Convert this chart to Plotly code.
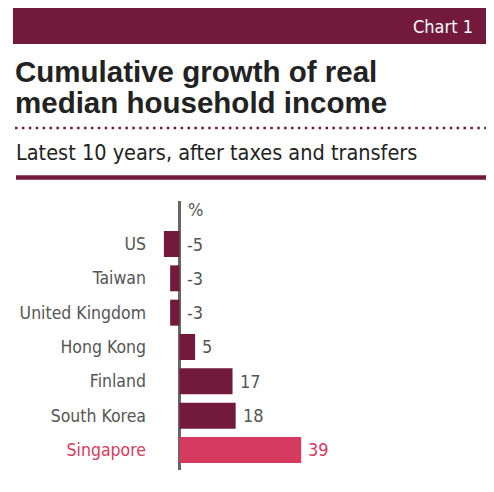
import plotly.graph_objects as go

countries = ["US", "Taiwan", "United Kingdom", "Hong Kong", "Finland", "South Korea", "Singapore"]
values = [-5, -3, -3, 5, 17, 18, 39]
highlight = "Singapore"

MAROON = "#731A3C"
PINK = "#D63A5E"
GREY = "#555555"
COND = "DejaVu Sans Condensed, Liberation Sans Narrow, sans-serif"
BOLD = "Liberation Sans, Arial, sans-serif"

OFF = 8  # page body margin
W, H = 494 - OFF, 492 - OFF
# plot area in page pixels
PL, PR, PT, PB = 150, 490, 201, 470
L, R, T, B = PL - OFF, W - (PR - OFF), PT - OFF, H - (PB - OFF)
PW, PH = PR - PL, PB - PT

def px(x):
    return (x - PL) / PW

def py(y):
    return (PB - y) / PH

colors = [PINK if c == highlight else MAROON for c in countries]
tcolors = [PINK if c == highlight else GREY for c in countries]
ticktext = [f"<span style='color:{PINK}'>{c}</span>" if c == highlight else c for c in countries]

fig = go.Figure()
fig.add_trace(go.Bar(
    y=countries, x=values, orientation="h",
    marker=dict(color=colors, line=dict(width=0)),
    width=0.757, hoverinfo="skip",
))

# x scale: zero at page pixel ~179.5, ~3.12 px per unit
x0px, scale = 179.5, 3.12
xmin = -(x0px - PL) / scale
xmax = (PR - x0px) / scale
# y: first bar centre at 244, spacing 34.33
c0, sp = 244, 34.33
ytop = (PT - c0) / sp
ybot = (PB - c0) / sp

fig.update_xaxes(range=[xmin, xmax], showgrid=False, showticklabels=False,
                 zeroline=True, zerolinecolor="#666666", zerolinewidth=2.5,
                 showline=False, ticks="")
fig.update_yaxes(range=[ybot, ytop], type="category", categoryorder="array",
                 categoryarray=countries, tickvals=countries, ticktext=ticktext,
                 showgrid=False, zeroline=False, showline=False, ticks="",
                 ticklabelstandoff=3, automargin=False,
                 tickfont=dict(family=COND, size=17.5, color=GREY))

shapes = [
    dict(type="rect", xref="paper", yref="paper", x0=px(13), x1=px(490), y0=py(44), y1=py(7),
         fillcolor=MAROON, line=dict(width=0), layer="below"),
    dict(type="line", xref="paper", yref="paper", x0=px(15), x1=px(490), y0=py(128), y1=py(128),
         line=dict(color=MAROON, width=2.5, dash="2.5px,4.4px")),
    dict(type="line", xref="paper", yref="paper", x0=px(16), x1=px(490), y0=py(177.5), y1=py(177.5),
         line=dict(color=MAROON, width=4.5)),
]

annotations = [
    dict(text="Chart 1", xref="paper", yref="paper", x=px(475), y=py(27), xanchor="right",
         yanchor="middle", showarrow=False, font=dict(family=COND, size=18, color="white")),
    dict(text="<b>Cumulative growth of real</b>", xref="paper", yref="paper",
         x=px(13), y=py(72), xanchor="left", yanchor="middle", align="left", showarrow=False,
         font=dict(family=BOLD, size=29.5, color="#222222")),
    dict(text="<b>median household income</b>", xref="paper", yref="paper",
         x=px(13), y=py(103), xanchor="left", yanchor="middle", align="left", showarrow=False,
         font=dict(family=BOLD, size=29.5, color="#222222")),
    dict(text="Latest 10 years, after taxes and transfers", xref="paper", yref="paper",
         x=px(14), y=py(152), xanchor="left", yanchor="middle", showarrow=False,
         font=dict(family=COND, size=21.5, color="#222222")),
    dict(text="%", xref="x", yref="paper", x=0, y=py(209), xanchor="left", yanchor="middle",
         xshift=6, showarrow=False, font=dict(family=COND, size=18, color=GREY)),
]

for c, v, col in zip(countries, values, tcolors):
    annotations.append(dict(
        text=str(v), xref="x", yref="y", x=max(v, 0), y=c, xanchor="left", yanchor="middle",
        xshift=5, showarrow=False, font=dict(family=COND, size=18, color=col),
    ))

fig.update_layout(
    width=W, height=H, margin=dict(l=L, r=R, t=T, b=B),
    paper_bgcolor="white", plot_bgcolor="white",
    showlegend=False, bargap=0.24,
    shapes=shapes, annotations=annotations,
)

fig.write_html("out.html")
